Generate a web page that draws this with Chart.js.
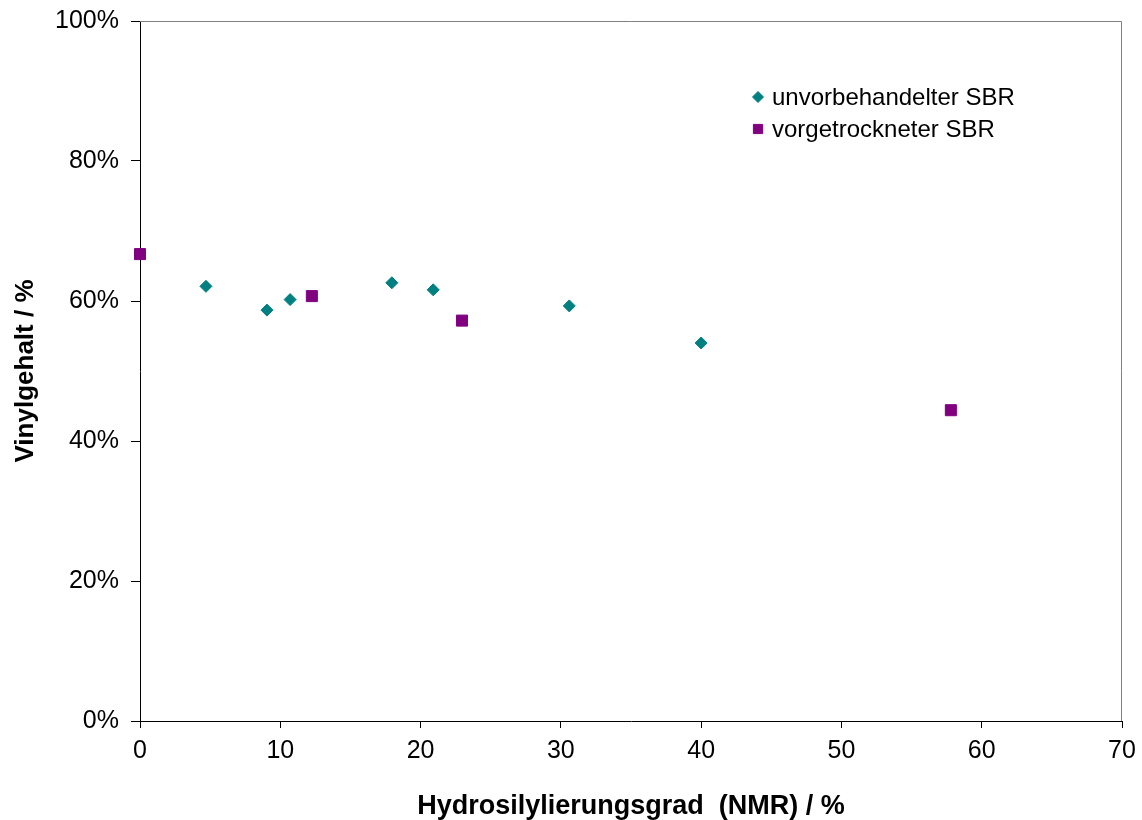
<!DOCTYPE html>
<html>
<head>
<meta charset="utf-8">
<script src="https://cdn.jsdelivr.net/npm/chart.js@4/dist/chart.umd.min.js"></script>
<style>
  html, body { margin: 0; padding: 0; background: #fff; }
  #wrap { width: 1142px; height: 820px; }
</style>
</head>
<body>
<div id="wrap"><canvas id="scatterChart"></canvas></div>
<script>
// Werte
const unvorbehandeltX = [4.7, 9.05, 10.7, 17.95, 20.9, 30.6, 40.0];
const unvorbehandeltY = [62.1, 58.7, 60.2, 62.6, 61.6, 59.3, 54.0];
const vorgetrocknetX = [0, 12.25, 22.95, 57.8];
const vorgetrocknetY = [66.7, 60.7, 57.2, 44.4];

const seriesNames = ['unvorbehandelter SBR', 'vorgetrockneter SBR'];
const xTicks = [0, 10, 20, 30, 40, 50, 60, 70];
const yTicks = [0, 20, 40, 60, 80, 100];

function toPoints(xs, ys) {
  return xs.map((x, i) => ({ x: x, y: ys[i] }));
}

const fontFamily = '"Liberation Sans", Arial, sans-serif';

// Rahmen oben/rechts grau und Legende im Diagramm
const framePlugin = {
  id: 'frame',
  afterDraw(chart) {
    const { ctx, chartArea } = chart;
    ctx.save();
    ctx.strokeStyle = '#808080';
    ctx.lineWidth = 1;
    ctx.beginPath();
    ctx.moveTo(chartArea.left, chartArea.top + 0.5);
    ctx.lineTo(chartArea.right - 0.5, chartArea.top + 0.5);
    ctx.lineTo(chartArea.right - 0.5, chartArea.bottom);
    ctx.stroke();

    const lx = chartArea.left + 618;
    let ly = chartArea.top + 76;
    ctx.font = '24px ' + fontFamily;
    ctx.textBaseline = 'middle';
    chart.data.datasets.forEach(ds => {
      ctx.fillStyle = ds.backgroundColor;
      ctx.strokeStyle = ds.borderColor;
      ctx.lineWidth = ds.borderWidth;
      Chart.helpers.drawPoint(ctx, {
        pointStyle: ds.pointStyle,
        radius: ds.pointStyle === 'rect' ? 6.5 : 5.5,
        borderWidth: ds.borderWidth
      }, lx, ly);
      ctx.fillStyle = '#000';
      ctx.fillText(ds.label, lx + 14, ly + 1);
      ly += 32;
    });
    ctx.restore();
  }
};

const ctx = document.getElementById('scatterChart');
new Chart(ctx, {
  type: 'scatter',
  data: {
    datasets: [{
      label: seriesNames[0],
      data: toPoints(unvorbehandeltX, unvorbehandeltY),
      pointStyle: 'rectRot',
      pointRadius: 6,
      backgroundColor: '#008080',
      borderColor: '#008080',
      borderWidth: 1
    }, {
      label: seriesNames[1],
      data: toPoints(vorgetrocknetX, vorgetrocknetY),
      pointStyle: 'rect',
      pointRadius: 7.8,
      backgroundColor: '#800080',
      borderColor: '#800080',
      borderWidth: 1
    }]
  },
  options: {
    responsive: true,
    maintainAspectRatio: false,
    animation: false,
    clip: false,
    layout: { padding: { top: 21, right: 20, left: 0, bottom: 0 } },
    plugins: {
      legend: { display: false },
      tooltip: { enabled: false }
    },
    scales: {
      x: {
        type: 'linear',
        min: 0,
        max: 70,
        afterBuildTicks: axis => { axis.ticks = xTicks.map(v => ({ value: v })); },
        afterFit: axis => { axis.height = 99; axis.paddingRight = 0; axis.paddingLeft = 0; },
        grid: { drawOnChartArea: false, drawTicks: true, tickLength: 7, color: '#000' },
        border: { color: '#000', width: 1 },
        ticks: {
          color: '#000',
          padding: 8,
          maxRotation: 0,
          font: { family: fontFamily, size: 25 }
        },
        title: {
          display: true,
          text: 'Hydrosilylierungsgrad  (NMR) / %',
          color: '#000',
          padding: { top: 15, bottom: -3 },
          font: { family: fontFamily, size: 27, weight: 'bold' }
        }
      },
      y: {
        type: 'linear',
        min: 0,
        max: 100,
        afterBuildTicks: axis => { axis.ticks = yTicks.map(v => ({ value: v })); },
        afterFit: axis => { axis.width = 140; axis.paddingTop = 0; axis.paddingBottom = 0; },
        grid: { drawOnChartArea: false, drawTicks: true, tickLength: 9, color: '#000' },
        border: { color: '#000', width: 1 },
        ticks: {
          color: '#000',
          padding: 12,
          callback: v => v + '%',
          font: { family: fontFamily, size: 25 }
        },
        title: {
          display: true,
          text: 'Vinylgehalt / %',
          color: '#000',
          padding: { top: 10, bottom: 14 },
          font: { family: fontFamily, size: 26, weight: 'bold' }
        }
      }
    }
  },
  plugins: [framePlugin]
});
</script>
</body>
</html>
